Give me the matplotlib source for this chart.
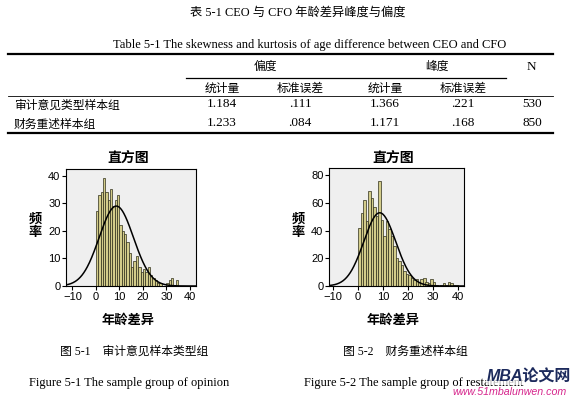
import matplotlib.pyplot as plt
import numpy as np
from matplotlib.lines import Line2D

# table data
col_groups = ['偏度', '峰度']
sub_cols = ['统计量', '标准误差', '统计量', '标准误差']
row_names = ['审计意见类型样本组', '财务重述样本组']
table_vals = [['1.184', '.111', '1.366', '.221', '530'],
              ['1.233', '.084', '1.171', '.168', '850']]

# histogram data (bins of width 1 starting at 0)
counts1 = [27, 33, 34, 39, 34, 31, 35, 29, 31, 33, 22, 20, 19, 16, 12, 7, 9, 11, 7, 5,
           6, 5, 7, 4, 3, 2, 1, 1, 0, 0, 1, 2, 3, 0, 2]
counts2 = [42, 53, 62, 47, 69, 64, 57, 51, 76, 48, 36, 47, 41, 36, 29, 20, 18, 15, 11, 9,
           8, 6, 4, 5, 3, 5, 6, 3, 2, 5, 3, 1, 0, 1, 2, 1, 3, 2, 1, 1]
# fitted normal curve (mean, sd, n)
fit1 = (8.7, 7.3, 530)
fit2 = (8.7, 6.4, 850)
yticks1 = [0, 10, 20, 30, 40]
yticks2 = [0, 20, 40, 60, 80]
xticks = [-10, 0, 10, 20, 30, 40]

W, H = 573, 398
fig = plt.figure(figsize=(W / 100, H / 100), dpi=100)
fig.patch.set_facecolor('white')

serif = ['Liberation Serif', 'Noto Sans CJK SC']
cjk = ['Noto Sans CJK SC', 'DejaVu Sans']
sans = ['Liberation Sans', 'Noto Sans CJK SC']


def px(x, y):
    return x / W, 1 - y / H


def txt(x, y, s, size=7.5, fam=serif, ha='center', **kw):
    fx, fy = px(x, y)
    fig.text(fx, fy, s, fontsize=size, family=fam, ha=ha, va='center', **kw)


def hline(x0, x1, y, lw):
    a, b = px(x0, y)
    c, _ = px(x1, y)
    fig.add_artist(Line2D([a, c], [b, b], color='black', lw=lw))


# captions
txt(298, 13, '表 5-1 CEO 与 CFO 年龄差异峰度与偏度', size=8.8)
txt(310, 45, 'Table 5-1 The skewness and kurtosis of age difference between CEO and CFO', size=9)

# table
hline(8, 553, 54, 1.6)
hline(186, 506, 78, 0.9)
hline(8, 553, 96, 0.6)
hline(8, 553, 133, 1.6)
txt(265, 66, col_groups[0], size=8.5, fam=cjk, weight='light')
txt(437, 66, col_groups[1], size=8.5, fam=cjk, weight='light')
txt(531, 67, 'N', size=9.5)
col_x = [222, 300, 385, 463, 532]
for x, s in zip(col_x[:4], sub_cols):
    txt(x, 88, s, size=8.5, fam=cjk, weight='light')
for i, (name, vals) in enumerate(zip(row_names, table_vals)):
    y = 105 + i * 19
    txt(14, y, name, size=8.5, fam=cjk, ha='left', weight='light')
    for x, v in zip(col_x, vals):
        txt(x, y - 1, v, size=9.5)


def draw_hist(rect, counts, fit, yticks, xlim, ylim, cx):
    l, r, t, b = rect
    ax = fig.add_axes([l / W, 1 - b / H, (r - l) / W, (b - t) / H])
    ax.set_facecolor('#efefef')
    edges = np.arange(len(counts))
    ax.bar(edges, counts, width=1, align='edge', color='#d3cc8a',
           edgecolor='#2e2e1a', linewidth=0.5)
    m, sd, n = fit
    xs = np.linspace(xlim[0], xlim[1], 300)
    ax.plot(xs, n / (sd * np.sqrt(2 * np.pi)) * np.exp(-0.5 * ((xs - m) / sd) ** 2),
            color='black', lw=1.1)
    ax.set_xlim(*xlim)
    ax.set_ylim(*ylim)
    ax.set_xticks(xticks)
    ax.set_yticks(yticks)
    ax.tick_params(labelsize=8, length=3, width=0.8, pad=1)
    for lab in ax.get_xticklabels() + ax.get_yticklabels():
        lab.set_family(sans)
    for sp in ax.spines.values():
        sp.set_linewidth(0.8)
    txt(cx, 158, '直方图', size=10, fam=cjk, weight='bold')
    txt(cx, 320, '年龄差异', size=9.5, fam=cjk, weight='bold')
    txt(l - 31, 225, '频\n率', size=9.5, fam=cjk, weight='bold', linespacing=0.95)
    return ax


draw_hist((66, 196, 169, 286), counts1, fit1, yticks1, (-12.7, 42.6), (0, 42.4), 128)
draw_hist((329, 464, 168, 286), counts2, fit2, yticks2, (-11.6, 42.4), (0, 85.4), 393)

# figure captions
txt(134, 352, '图 5-1    审计意见样本类型组', size=8.5, fam=serif, weight='light')
txt(405, 352, '图 5-2    财务重述样本组', size=8.5, fam=serif, weight='light')
txt(129, 383, 'Figure 5-1 The sample group of opinion', size=9)
txt(414, 383, 'Figure 5-2 The sample group of restatement', size=9)

# watermark
txt(529, 377, 'MBA论文网', size=11.5, fam=['Liberation Sans', 'Noto Sans CJK SC'],
    weight='bold', style='italic', color='#1c2a5c',
    bbox=dict(facecolor='white', edgecolor='none', alpha=0.7, pad=0.5))
txt(510, 392, 'www.51mbalunwen.com', size=7.7, fam=['Liberation Sans'],
    style='italic', color='#d6258c')

fig.savefig('out.png', dpi=100)
